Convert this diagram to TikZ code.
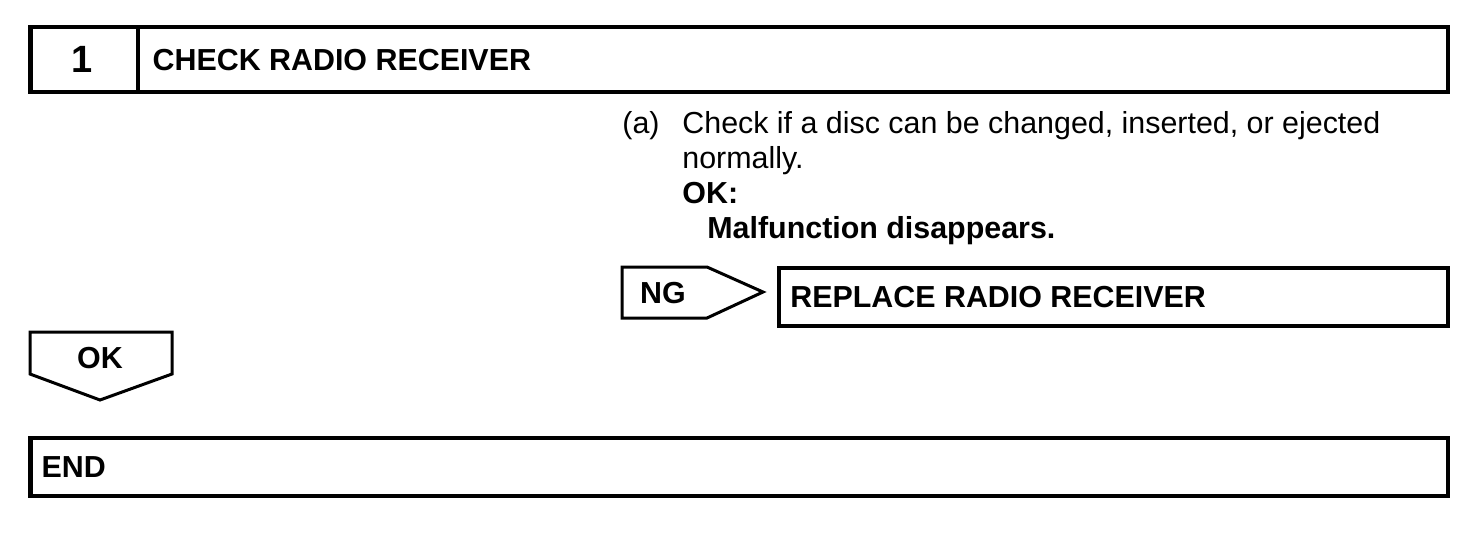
\documentclass[tikz,border=0pt]{standalone}
\usepackage{fontspec}
\setmainfont{Liberation Sans}
\usepackage{tikz}
\usetikzlibrary{positioning}
\tikzset{>=stealth}

\begin{document}
\begin{tikzpicture}[x=0.5pt,y=-0.5pt,
    frame/.style={draw,line width=2.1pt,inner sep=0pt,anchor=north west},
    tag/.style={draw,line width=1.5pt,line join=miter},
    head/.style={font=\bfseries\fontsize{15.2}{17.5}\selectfont,inner sep=0pt},
    body/.style={font=\fontsize{15.2}{17.5}\selectfont,inner sep=0pt,anchor=base west}]
    \useasboundingbox (0,0) rectangle (1472,532);
    % step header
    \node[frame,minimum width=708.9pt,minimum height=32.5pt] (stepbox) at (28.3,25) {};
    \draw[line width=2.1pt] ([xshift=54.8pt]stepbox.north west) -- ([xshift=54.8pt]stepbox.south west);
    \node[head,font=\bfseries\fontsize{19}{20}\selectfont] (stepnum) at ([xshift=27pt]stepbox.west) {1};
    \node[head,right=62pt of stepbox.west] (steptitle) {CHECK RADIO RECEIVER};
    % inspection text
    \node[body] (itema) at (622,133) {(a)};
    \node[body] (itemline) at (682,133) {Check if a disc can be changed, inserted, or ejected};
    \node[body] (itemwrap) at (682,168) {normally.};
    \node[body,font=\bfseries\fontsize{15.2}{17.5}\selectfont] (okhead) at (682,203) {OK:};
    \node[body,font=\bfseries\fontsize{15.2}{17.5}\selectfont] (okbody) at (707,238) {Malfunction disappears.};
    % NG branch
    \draw[tag] (622,267) -- (707,267) -- (763,292) -- (707,318) -- (622,318) -- cycle;
    \node[head] (ngtext) at (663,293) {NG};
    \node[frame,minimum width=334.5pt,minimum height=29pt] (fixbox) at (777,266) {};
    \node[head,right=6.5pt of fixbox.west] (fixtext) {REPLACE RADIO RECEIVER};
    % OK branch
    \draw[tag] (30,332) -- (172,332) -- (172,374) -- (100,400) -- (30,374) -- cycle;
    \node[head] (oktext) at (100,358) {OK};
    \node[frame,minimum width=708.9pt,minimum height=29.2pt] (endbox) at (28.3,435.5) {};
    \node[head,right=6.5pt of endbox.west] (endtext) {END};
\end{tikzpicture}
\end{document}
